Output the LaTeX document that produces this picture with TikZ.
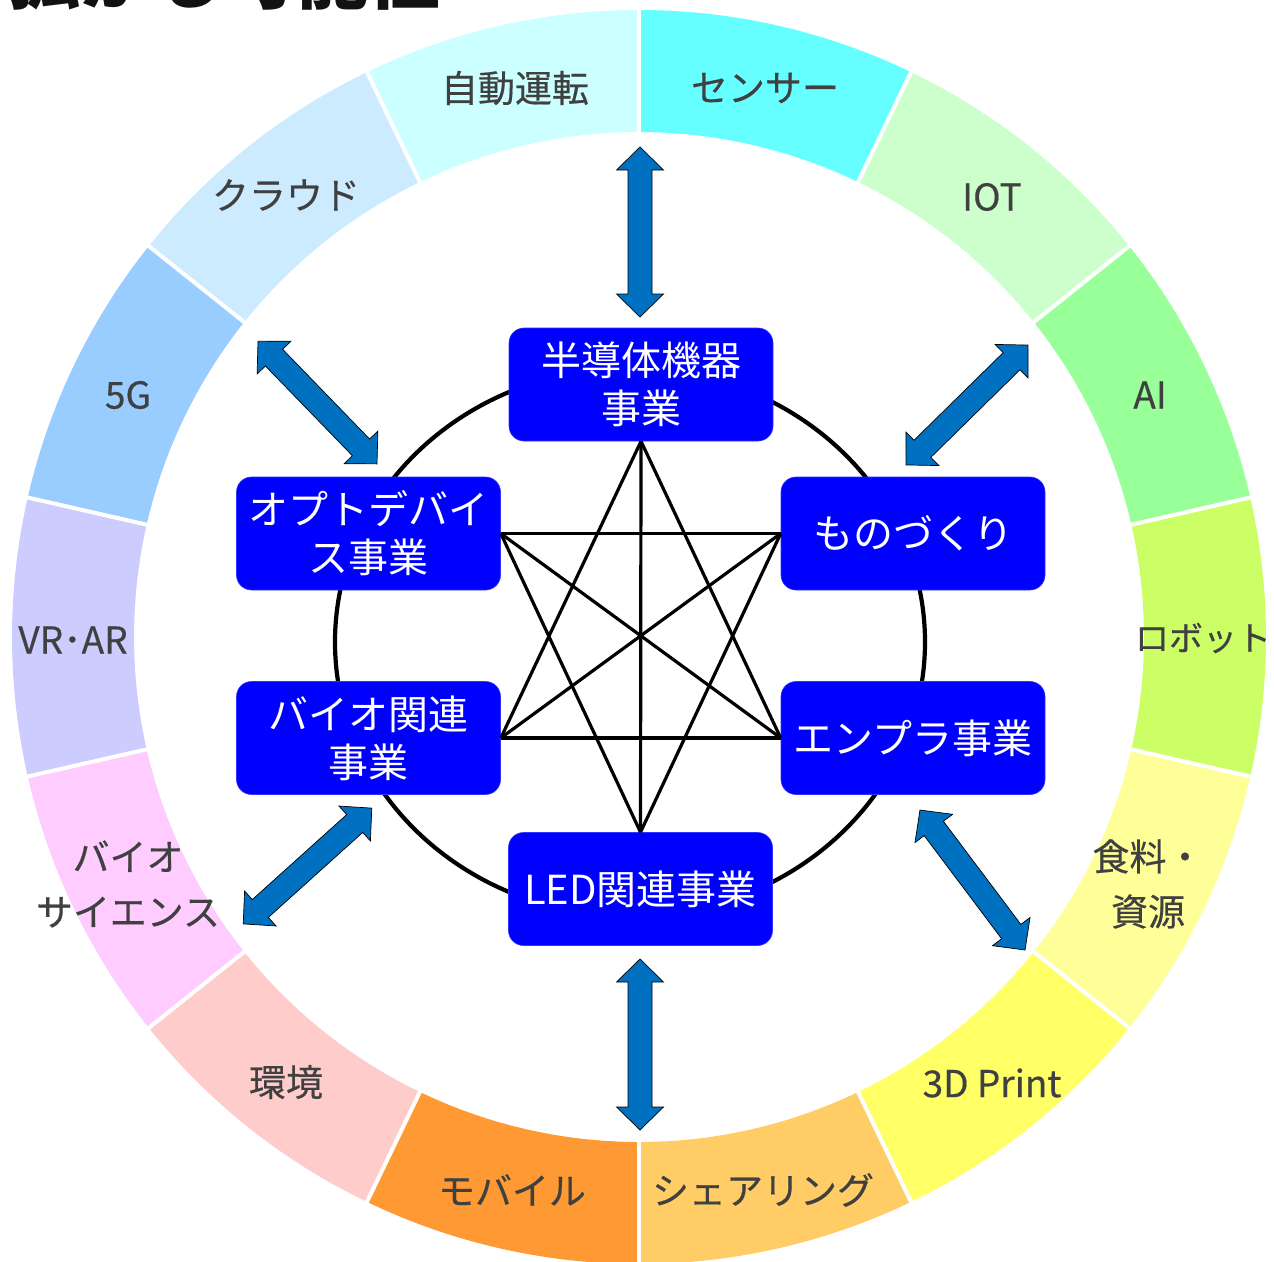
\documentclass[tikz,border=0pt]{standalone}
\usepackage{fontspec}
\setmainfont{Noto Sans CJK JP}
\newfontfamily\labelfont[FakeBold=0.4]{Noto Sans CJK JP}
\usetikzlibrary{calc}
\definecolor{cSensor}{HTML}{66FFFF}
\definecolor{cIot}{HTML}{CCFFCC}
\definecolor{cAi}{HTML}{99FF99}
\definecolor{cRobot}{HTML}{CCFF66}
\definecolor{cFood}{HTML}{FFFF99}
\definecolor{cPrint}{HTML}{FFFF66}
\definecolor{cShare}{HTML}{FFCC66}
\definecolor{cMobile}{HTML}{FF9933}
\definecolor{cEnv}{HTML}{FFCCCC}
\definecolor{cBio}{HTML}{FFCCFF}
\definecolor{cVr}{HTML}{CCCCFF}
\definecolor{cFive}{HTML}{99CCFF}
\definecolor{cCloud}{HTML}{CCEBFF}
\definecolor{cAuto}{HTML}{CCFFFF}
\definecolor{labelgray}{HTML}{404040}
\definecolor{boxblue}{HTML}{0000FF}
\definecolor{arrowblue}{HTML}{0070C0}
\tikzset{
  seglabel/.style={text=labelgray, font=\labelfont\fontsize{37}{55}\selectfont, align=center, inner sep=0pt},
  bizbox/.style={fill=boxblue, draw=boxblue!80!white, line width=0.6pt, rounded corners=15pt,
     minimum width=264pt, minimum height=113pt, text=white, align=center,
     font=\fontsize{40}{48}\selectfont, inner sep=0pt},
  starline/.style={draw=black, line width=3.2pt},
  blockarrowsty/.style={fill=arrowblue, draw=black, line width=0.7pt, line join=miter},
}
\newcommand\blkarrow[4]{%
  \begin{scope}[shift={(#1,#2)},rotate=#3]
    \path[blockarrowsty] (-#4/2,0) -- (-#4/2+23,-23.5) -- (-#4/2+23,-12) -- (#4/2-23,-12)
      -- (#4/2-23,-23.5) -- (#4/2,0) -- (#4/2-23,23.5) -- (#4/2-23,12)
      -- (-#4/2+23,12) -- (-#4/2+23,23.5) -- cycle;
  \end{scope}}
\begin{document}
\begin{tikzpicture}[x=1pt,y=-1pt]
\useasboundingbox (0,0) rectangle (1274,1261);
\coordinate (C) at (639,637);
% title (cut off at the top edge)
\node[anchor=base west, inner sep=0pt, font=\bfseries\fontsize{72}{72}\selectfont, text=black!93] (title) at (8,3) {拡がる可能性};
% ring sectors
\foreach \k/\col in {0/cSensor,1/cIot,2/cAi,3/cRobot,4/cFood,5/cPrint,6/cShare,7/cMobile,8/cEnv,9/cBio,10/cVr,11/cFive,12/cCloud,13/cAuto}{
  \pgfmathsetmacro\aa{\k*360/14-90}
  \pgfmathsetmacro\ab{(\k+1)*360/14-90}
  \fill[\col] ($(C)+(\aa:505)$) -- ($(C)+(\aa:627)$) arc[start angle=\aa, end angle=\ab, radius=627]
     -- ($(C)+(\ab:505)$) arc[start angle=\ab, end angle=\aa, radius=505] -- cycle;
}
\foreach \k in {0,...,13}{
  \pgfmathsetmacro\aa{\k*360/14-90}
  \draw[white, line width=4pt] ($(C)+(\aa:500)$) -- ($(C)+(\aa:633)$);
}
% segment labels
\node[seglabel] (lAuto) at (515,88) {自動運転};
\node[seglabel] (lSensor) at (765,88) {センサー};
\node[seglabel] (lIot) at (992,197) {IOT};
\node[seglabel] (lAi) at (1150,395) {AI};
\node[seglabel, font=\labelfont\fontsize{34}{55}\selectfont] (lRobot) at (1203,638) {ロボット};
\node[seglabel] (lFood) at (1148,884) {食料・\\資源};
\node[seglabel] (lPrint) at (992,1083) {3D Print};
\node[seglabel] (lShare) at (763,1190) {シェアリング};
\node[seglabel] (lMobile) at (512,1190) {モバイル};
\node[seglabel] (lEnv) at (286,1082) {環境};
\node[seglabel] (lBio) at (128,884) {バイオ\\サイエンス};
\node[seglabel] (lVr) at (73,640) {VR･AR};
\node[seglabel] (lFive) at (128,395) {5G};
\node[seglabel] (lCloud) at (286,195) {クラウド};
% inner ellipse
\draw[black, line width=4.2pt] (630,642) ellipse[x radius=295, y radius=274];
% business boxes
\node[bizbox] (semi) at (641,384.5) {半導体機器\\事業};
\node[bizbox] (opto) at (368.5,533.5) {オプトデバイ\\ス事業};
\node[bizbox] (bioj) at (368.5,738) {バイオ関連\\事業};
\node[bizbox] (mono) at (913,533.5) {ものづくり};
\node[bizbox] (enpura) at (913,738) {エンプラ事業};
\node[bizbox] (led) at (640.5,889) {LED関連事業};
% star connections
\draw[starline] (semi.south) -- (bioj.east);
\draw[starline] (semi.south) -- (enpura.west);
\draw[starline] (semi.south) -- (led.north);
\draw[starline] (led.north) -- (opto.east);
\draw[starline] (led.north) -- (mono.west);
\draw[starline] (opto.east) -- (mono.west);
\draw[starline] (bioj.east) -- (enpura.west);
\draw[starline] (opto.east) -- (enpura.west);
\draw[starline] (mono.west) -- (bioj.east);
% block double arrows
\blkarrow{640}{232}{90}{170}
\blkarrow{640}{1044.5}{90}{171}
\blkarrow{317.5}{402.5}{-45.9}{171}
\blkarrow{967}{405}{-135.5}{171}
\blkarrow{307.5}{866}{-138}{173}
\blkarrow{972.5}{880}{-53.1}{175}
\end{tikzpicture}
\end{document}
